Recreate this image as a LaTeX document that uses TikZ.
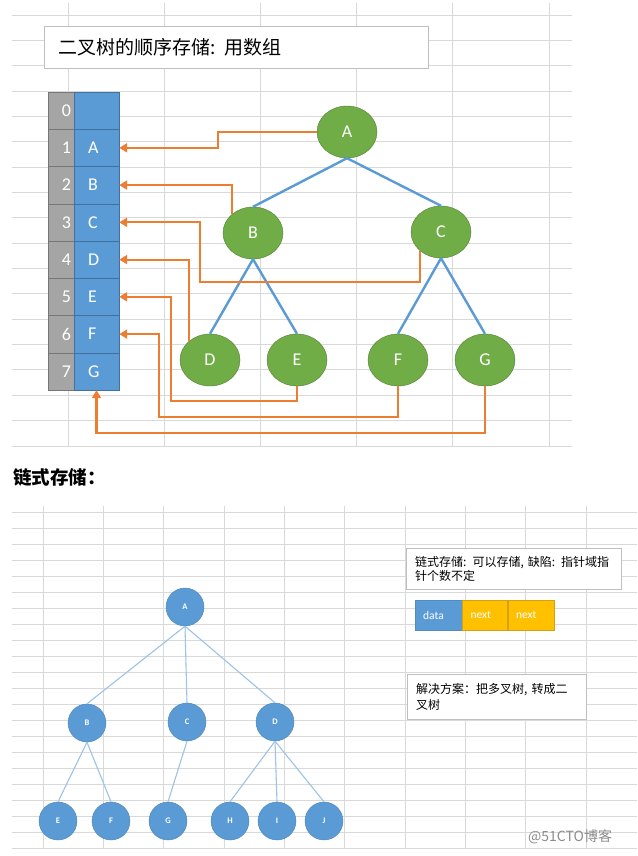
\documentclass[tikz,border=0pt]{standalone}
\usepackage{fontspec}
\setmainfont{Carlito}
\newfontfamily\cjk{Noto Sans CJK SC}
\usetikzlibrary{shapes.geometric, arrows.meta, positioning}
\definecolor{XL_Grid}{RGB}{217,217,217}
\definecolor{XL_Blue}{RGB}{91,155,213}
\definecolor{XL_BlueDark}{RGB}{65,113,156}
\definecolor{XL_Green}{RGB}{112,173,71}
\definecolor{XL_GreenDark}{RGB}{80,126,50}
\definecolor{XL_Orange}{RGB}{237,125,49}
\definecolor{XL_Gray}{RGB}{165,165,165}
\definecolor{XL_GrayDark}{RGB}{118,118,118}
\definecolor{XL_Gold}{RGB}{255,192,0}
\definecolor{XL_GoldDark}{RGB}{214,160,20}
\definecolor{XL_Light}{RGB}{157,195,230}

\begin{document}
\begin{tikzpicture}[
    x=1pt, y=-1pt,
    gridline/.style={XL_Grid, line width=0.9pt},
    idx/.style={rectangle, draw=XL_GrayDark, fill=XL_Gray, minimum width=26pt,
                minimum height=37.25pt, inner sep=0pt, text width=20pt, align=right,
                text=white, font=\fontsize{18}{18}\selectfont},
    val/.style={rectangle, draw=XL_BlueDark, fill=XL_Blue, minimum width=45pt,
                minimum height=37.25pt, inner sep=0pt, text width=17pt, align=left,
                text=white, font=\fontsize{18}{18}\selectfont},
    tnode/.style={ellipse, draw=XL_GreenDark, fill=XL_Green, minimum width=60pt,
                  minimum height=52pt, inner sep=0pt, text=white,
                  font=\fontsize{18}{18}\selectfont},
    tedge/.style={XL_Blue, line width=2.4pt},
    arrow/.style={-{Triangle[length=8pt, width=9pt]}, XL_Orange, line width=2.2pt},
    cnode/.style={circle, draw=XL_Blue!85!black, fill=XL_Blue, minimum size=38pt,
                  inner sep=0pt, text=white, font=\fontsize{8.5}{8.5}\selectfont\bfseries},
    cedge/.style={XL_Light, line width=1.1pt},
    note/.style={rectangle, draw=black!25, fill=white, anchor=north west, align=left,
                 inner ysep=0pt},
    field/.style={rectangle, anchor=north west, minimum height=30pt, inner ysep=0pt,
                  inner xsep=8pt, align=left, text=white, font=\fontsize{11.5}{11.5}\selectfont}
]
\useasboundingbox[fill=white] (0,0) rectangle (637,856);

\foreach \k in {0,...,17} \draw[gridline] (12,15+25.35*\k) -- (572,15+25.35*\k);
\foreach \k in {0,...,5} \draw[gridline] (68+96.2*\k,3) -- (68+96.2*\k,446);
\foreach \k in {0,...,21} \draw[gridline] (12,512+16*\k) -- (637,512+16*\k);
\foreach \k in {0,...,9} \draw[gridline] (43+60.35*\k,506) -- (43+60.35*\k,848);

\node[note, minimum width=384pt, minimum height=42pt, text width=356pt, inner xsep=14pt,
      font=\cjk\fontsize{19}{19}\selectfont] (title) at (44,26) {二叉树的顺序存储: 用数组};

\foreach \i/\t in {0/{},1/A,2/B,3/C,4/D,5/E,6/F,7/G} {
  \node[idx] (i\i) at (61,110.6+37.25*\i) {\i};
  \node[val] (v\i) at (96.5,110.6+37.25*\i) {\t};
}

\node[tnode] (sA) at (347,132) {A};
\node[tnode] (sB) at (253,233) {B};
\node[tnode] (sC) at (441,232) {C};
\node[tnode] (sD) at (210,360) {D};
\node[tnode] (sE) at (297,360) {E};
\node[tnode] (sF) at (398,360) {F};
\node[tnode] (sG) at (485,360) {G};

\draw[tedge] (sA.south) -- (sB.north);
\draw[tedge] (sA.south) -- (sC.north);
\draw[tedge] (sB.south) -- (sD.north);
\draw[tedge] (sB.south) -- (sE.north);
\draw[tedge] (sC.south) -- (sF.north);
\draw[tedge] (sC.south) -- (sG.north);

\draw[arrow] (sA.west) -- ++(-99,0) |- (v1.east);
\draw[arrow] (sB.north west) |- (v2.east);
\draw[arrow] (sC.south west) |- (200,282) |- (v3.east);
\draw[arrow] (sD.north west) |- (v4.east);
\draw[arrow] (sE.south) |- (171,401) |- (v5.east);
\draw[arrow] (sF.south) |- (159,417) |- (v6.east);
\draw[arrow] (sG.south) -- ++(0,47) -| (v7.south);

\node[anchor=west, inner sep=0pt, font=\cjk\bfseries\fontsize{18.5}{18.5}\selectfont] (chain) at (13,477) {链式存储：};

\node[cnode] (lA) at (185,607) {A};
\node[cnode] (lB) at (87,723) {B};
\node[cnode] (lC) at (187,722) {C};
\node[cnode] (lD) at (275,722) {D};
\node[cnode] (lE) at (58,821) {E};
\node[cnode] (lF) at (111,821) {F};
\node[cnode] (lG) at (168,821) {G};
\node[cnode] (lH) at (230,821) {H};
\node[cnode] (lI) at (277,821) {I};
\node[cnode] (lJ) at (324,821) {J};

\draw[cedge] (lA.south) -- (lB.north);
\draw[cedge] (lA.south) -- (lC.north);
\draw[cedge] (lA.south) -- (lD.north);
\draw[cedge] (lB.south) -- (lE.north);
\draw[cedge] (lB.south) -- (lF.north);
\draw[cedge] (lC.south) -- (lG.north);
\draw[cedge] (lD.south) -- (lH.north);
\draw[cedge] (lD.south) -- (lI.north);
\draw[cedge] (lD.south) -- (lJ.north);

\node[note, minimum width=215pt, minimum height=41pt, text width=197pt, inner xsep=9pt,
      font=\cjk\fontsize{12}{13.5}\selectfont] (weak) at (406,548)
      {链式存储: 可以存储, 缺陷: 指针域指\\针个数不定};

\node[field, fill=XL_Blue, draw=XL_Blue!90!black, text width=31pt] (data) at (415,600) {data};
\node[field, fill=XL_Gold, draw=XL_GoldDark, text width=29pt, right=0pt of data] (next1) {next};
\node[field, fill=XL_Gold, draw=XL_GoldDark, text width=30pt, right=0pt of next1] (next2) {next};

\node[note, minimum width=179pt, minimum height=45pt, text width=161pt, inner xsep=9pt,
      font=\cjk\fontsize{12}{16}\selectfont] (fix) at (407,674)
      {解决方案：把多叉树, 转成二\\叉树};

\node[anchor=west, inner sep=0pt, text=black!45, font=\cjk\fontsize{14}{14}\selectfont] (mark) at (528,837) {@51CTO博客};

\end{tikzpicture}
\end{document}
